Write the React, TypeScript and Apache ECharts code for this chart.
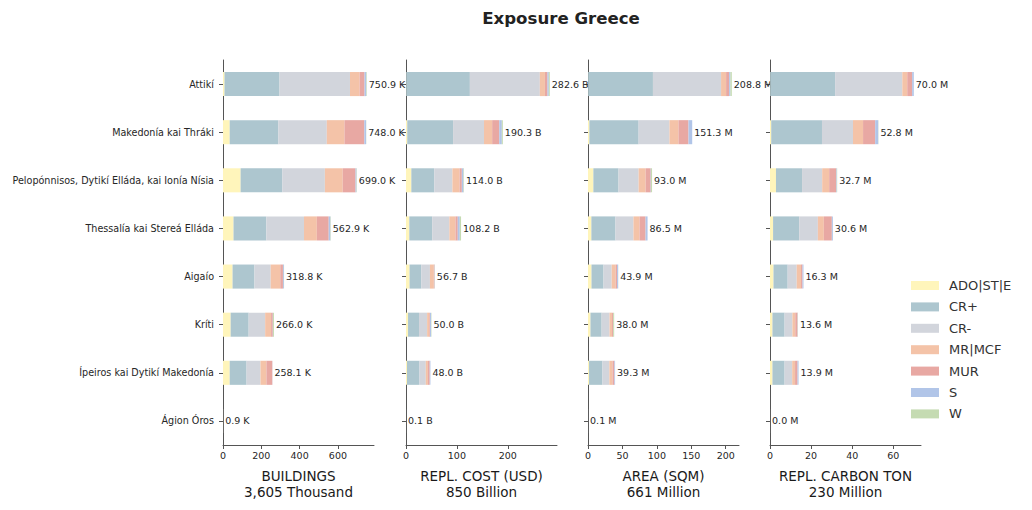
import React, { useEffect, useRef } from "react";
import * as echarts from "echarts";

const categories = [
  "Attikí",
  "Makedonía kai Thráki",
  "Pelopónnisos, Dytikí Elláda, kai Ionía Nísia",
  "Thessalía kai Stereá Elláda",
  "Aigaío",
  "Kríti",
  "Ípeiros kai Dytikí Makedonía",
  "Ágion Óros",
];

const seriesNames = ["ADO|ST|E", "CR+", "CR-", "MR|MCF", "MUR", "S", "W"];
const seriesColors = ["#fff5bb", "#adc6cf", "#d2d5dc", "#f4c3a8", "#e8a8a3", "#b1c5e8", "#c5dbb2"];

// BUILDINGS (thousand)
const buildingsADO = [8, 35, 92, 55, 50, 40, 35, 0.1];
const buildingsCRp = [287, 254, 218, 171, 114, 94, 88, 0.3];
const buildingsCRm = [368, 253, 222, 197, 85, 86, 72.6, 0.3];
const buildingsMR = [50, 92, 93, 67, 50, 31, 31, 0.1];
const buildingsMUR = [26, 104, 67, 62, 14, 9, 31, 0.1];
const buildingsS = [9, 9, 5, 8.9, 5, 1, 0.5, 0];
const buildingsW = [2.9, 1, 2, 2, 0.8, 5, 0, 0];

// REPL. COST (billion USD)
const costADO = [0.5, 2.5, 10.5, 6.5, 7, 4, 2, 0];
const costCRp = [125, 90, 45, 45, 23, 21.5, 24.5, 0.05];
const costCRm = [137.5, 60.8, 35.7, 33.7, 17, 16, 12.4, 0.05];
const costMR = [10, 16, 14, 12, 7.6, 4.3, 4.2, 0];
const costMUR = [5, 14, 4.5, 4.5, 1.4, 1.4, 3.5, 0];
const costS = [2.6, 5, 3.3, 4, 0.4, 2.1, 1.4, 0];
const costW = [2, 2, 1, 2.5, 0.3, 0.7, 0, 0];

// AREA (million sqm)
const areaADO = [0.3, 2, 7.8, 4.9, 5.1, 3.6, 1.5, 0];
const areaCRp = [94, 71.5, 36.5, 35, 17.4, 16.2, 19.5, 0.05];
const areaCRm = [98.9, 44.8, 29.2, 26.1, 11.9, 11.5, 10, 0.05];
const areaMR = [7.3, 13, 10.2, 8.8, 5.8, 3.6, 4.5, 0];
const areaMUR = [4.4, 14.6, 7.3, 8.8, 2, 1.6, 2.8, 0];
const areaS = [1.9, 5.4, 0.5, 2.9, 1.6, 0, 1, 0];
const areaW = [2, 0, 1.5, 0, 0.1, 1.5, 0, 0];

// REPL. CARBON (million ton)
const carbonADO = [0.1, 0.6, 2.9, 1.5, 1.7, 1.2, 1.2, 0.01];
const carbonCRp = [31.6, 24.7, 12.7, 12.7, 6.9, 5.9, 5.9, 0.01];
const carbonCRm = [32.7, 15.1, 9.8, 9.1, 4.4, 3.8, 3.7, 0.01];
const carbonMR = [2.4, 4.9, 3.4, 2.9, 2.1, 1.4, 1.4, 0];
const carbonMUR = [2.4, 5.9, 3.4, 3.9, 0.7, 1.1, 1.2, 0];
const carbonS = [0.8, 1.5, 0.3, 0.5, 0.5, 0.1, 0.5, 0];
const carbonW = [0, 0.1, 0.2, 0, 0, 0.1, 0, 0];

const panelTitles = [
  "BUILDINGS\n3,605 Thousand",
  "REPL. COST (USD)\n850 Billion",
  "AREA (SQM)\n661 Million",
  "REPL. CARBON TON\n230 Million",
];
const panelUnits = ["K", "B", "M", "M"];
const panelTickIntervals = [200, 100, 50, 20];

const panelData = [
  [buildingsADO, buildingsCRp, buildingsCRm, buildingsMR, buildingsMUR, buildingsS, buildingsW],
  [costADO, costCRp, costCRm, costMR, costMUR, costS, costW],
  [areaADO, areaCRp, areaCRm, areaMR, areaMUR, areaS, areaW],
  [carbonADO, carbonCRp, carbonCRm, carbonMR, carbonMUR, carbonS, carbonW],
];

const FONT = "DejaVu Sans";
const TEXT = "#262626";
const SPINE = "#555555";
const gridLefts = [223, 406, 588, 770];
const gridWidth = 151;

export default function App() {
  const ref = useRef<HTMLDivElement>(null);

  useEffect(() => {
    if (!ref.current) return;
    const chart = echarts.init(ref.current, undefined, { renderer: "svg" });

    const grids: any[] = [];
    const xAxes: any[] = [];
    const yAxes: any[] = [];
    const series: any[] = [];

    panelData.forEach((rows, p) => {
      const totals = categories.map((_, i) => rows.reduce((s, r) => s + r[i], 0));
      const maxTotal = Math.max(...totals);
      const axMax = maxTotal * 1.05;
      const step = panelTickIntervals[p];
      const ticks: number[] = [];
      for (let v = 0; v <= axMax + 1e-9; v += step) ticks.push(v);

      grids.push({ left: gridLefts[p], width: gridWidth, top: 60, height: 385, containLabel: false });
      xAxes.push({
        type: "value",
        gridIndex: p,
        min: 0,
        max: axMax,
        interval: step,
        splitLine: { show: false },
        axisLine: { show: true, lineStyle: { color: SPINE, width: 1 } },
        axisTick: { show: true, length: 4, lineStyle: { color: SPINE }, customValues: ticks },
        axisLabel: {
          fontFamily: FONT,
          fontSize: 9.5,
          color: TEXT,
          margin: 5,
          customValues: ticks,
        },
        name: panelTitles[p],
        nameLocation: "middle",
        nameGap: 23,
        nameTextStyle: { fontFamily: FONT, fontSize: 13.5, color: "#1a1a1a", lineHeight: 16 },
      });
      yAxes.push({
        type: "category",
        gridIndex: p,
        data: categories,
        inverse: true,
        axisLine: { show: true, lineStyle: { color: SPINE, width: 1 } },
        axisTick: { show: true, length: 4, alignWithLabel: true, lineStyle: { color: SPINE } },
        axisLabel: {
          show: p === 0,
          fontFamily: FONT,
          fontSize: 9.6,
          color: TEXT,
          margin: 9,
        },
        splitLine: { show: false },
      });

      rows.forEach((vals, k) => {
        series.push({
          type: "bar",
          name: seriesNames[k],
          xAxisIndex: p,
          yAxisIndex: p,
          stack: "s" + p,
          data: vals,
          barWidth: "50%",
          barGap: "-100%",
          itemStyle: { color: seriesColors[k] },
          emphasis: { disabled: true },
        });
      });
      series.push({
        type: "bar",
        name: "total" + p,
        xAxisIndex: p,
        yAxisIndex: p,
        data: totals,
        barWidth: "50%",
        barGap: "-100%",
        itemStyle: { color: "rgba(0,0,0,0)" },
        z: 1,
        silent: true,
        label: {
          show: true,
          position: "right",
          distance: 2,
          fontFamily: FONT,
          fontSize: 9.5,
          color: TEXT,
          formatter: (prm: any) => prm.value.toFixed(1) + " " + panelUnits[p],
        },
      });
    });

    chart.setOption({
      animation: false,
      backgroundColor: "#ffffff",
      title: {
        text: "Exposure Greece",
        left: 556,
        textAlign: "center",
        top: 5,
        textStyle: { fontFamily: FONT, fontSize: 16.6, fontWeight: "bold", color: "#222222" },
      },
      legend: {
        data: seriesNames,
        orient: "vertical",
        left: 906,
        top: 274,
        itemWidth: 28,
        itemHeight: 9,
        itemGap: 8.4,
        icon: "rect",
        textStyle: { fontFamily: FONT, fontSize: 13, color: "#333333", padding: [0, 0, 0, 5] },
      },
      grid: grids,
      xAxis: xAxes,
      yAxis: yAxes,
      series,
    });

    return () => chart.dispose();
  }, []);

  return (
    <div
      ref={ref}
      style={{ position: "fixed", left: 0, top: 0, width: 1032, height: 510, background: "#fff" }}
    />
  );
}
